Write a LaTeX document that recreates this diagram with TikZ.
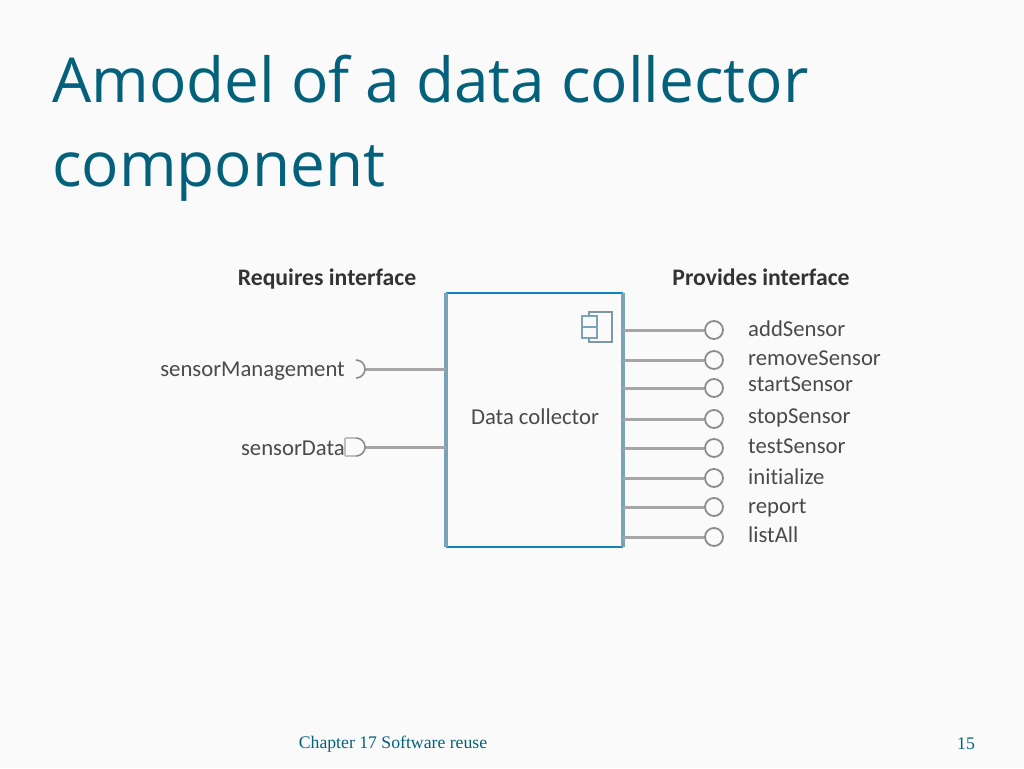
\documentclass[tikz,border=0pt]{standalone}
\usepackage{fontspec}
\setmainfont{Open Sans}
\newfontfamily\diagfont[Renderer=Basic,Ligatures=NoCommon]{Carlito}
\newfontfamily\footfont{Liberation Serif}
\definecolor{titleblue}{HTML}{04617B}
\definecolor{boxblue}{HTML}{7BA3B8}
\definecolor{edgeblue}{HTML}{0F86C0}
\definecolor{footblue}{HTML}{04617B}
\definecolor{wire}{HTML}{A6A6A6}
\definecolor{ring}{HTML}{8C8C8C}
\definecolor{ink}{HTML}{4A4A4A}
\definecolor{page}{HTML}{FAFAFA}
\tikzset{
  x=1pt,y=-1pt,
  titletext/.style={anchor=base west,inner sep=0,text=titleblue,font=\fontsize{62}{72}\selectfont},
  headtext/.style={anchor=base,inner sep=0,text=black!80,font=\diagfont\bfseries\fontsize{23.7}{26}\selectfont},
  opname/.style={anchor=base west,inner sep=0,text=ink,font=\diagfont\fontsize{22.7}{26}\selectfont},
  reqname/.style={anchor=base east,inner sep=0,text=ink,font=\diagfont\fontsize{22.7}{26}\selectfont},
  ball/.style={circle,draw=ring,fill=page,line width=1.8pt,minimum size=18pt,inner sep=0},
  wireline/.style={draw=wire,line width=3pt},
  footer/.style={anchor=base,inner sep=0,text=footblue,font=\footfont\fontsize{17.7}{20}\selectfont},
  compbox/.style={draw=none,minimum width=176pt,minimum height=254pt,inner sep=0,anchor=north west},
}
\begin{document}
\begin{tikzpicture}
\useasboundingbox (0,0) rectangle (1024,768);
\fill[page] (0,0) rectangle (1024,768);
\node[titletext] (t1) at (52,102) {Amodel of a data collector};
\node[titletext] (t2) at (52,186) {component};
\node[headtext] (rq) at (327,285) {Requires interface};
\node[headtext] (pr) at (761,285) {Provides interface};
% component box
\node[compbox] (dc) at (446,293) {};
\draw[edgeblue,line width=2.4pt] (446,293) -- (623,293);
\draw[edgeblue,line width=2.4pt] (446,547) -- (623,547);
\draw[boxblue,line width=3.5pt] (446,293) -- (446,547);
\draw[boxblue,line width=3.5pt] (623,293) -- (623,547);
\node[anchor=base,inner sep=0,text=ink,font=\diagfont\fontsize{22.7}{26}\selectfont] (dcl) at (535,424) {Data collector};
% component icon
\draw[boxblue!70!gray,line width=2pt,fill=page] (589,312) rectangle (612,342);
\draw[boxblue,line width=2pt,fill=page] (582,316) rectangle (597,327);
\draw[boxblue,line width=2pt,fill=page] (582,327) rectangle (597,338);
% required interfaces
\coordinate (s1) at (365,369);
\coordinate (s2) at (365,447);
\draw[wireline] (s1) -- (446,369);
\draw[wireline] (s2) -- (446,447);
\draw[ring,line width=1.6pt] (356,378) arc (90:-90:9);
\draw[ring,line width=1.6pt] (356,456) arc (90:-90:9);
\draw[gray!50,line width=1.4pt] (356,438) -- (345,438) (356,456) -- (345,456) (345,438) -- (345,456);
\node[reqname] (m) at (345,376) {sensorManagement};
\node[reqname] (d) at (345,455) {sensorData};
% provided interfaces
\foreach \n/\cy/\ty/\lab in {a/330/336/addSensor,b/360/365/removeSensor,c/388/391/startSensor,e/419/423/stopSensor,f/448/453/testSensor,g/478/484/initialize,h/507/513/report,i/537/542/listAll}{
  \node[ball] (b\n) at (714,\cy) {};
  \draw[wireline] (623,\cy) -- (b\n);
  \node[opname] (l\n) at (748,\ty) {\lab};
}
\node[footer] (f1) at (393,748) {Chapter 17 Software reuse};
\node[footer] (f2) at (966,749) {15};
\end{tikzpicture}
\end{document}
